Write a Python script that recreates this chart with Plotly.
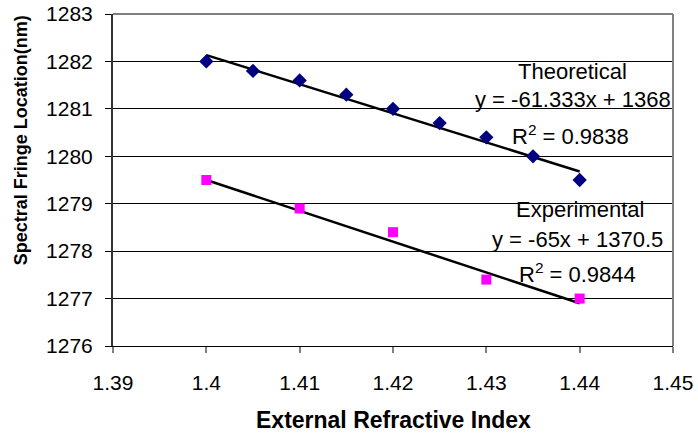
import plotly.graph_objects as go

# Measured fringe positions versus external refractive index
theo_x = [1.400, 1.405, 1.410, 1.415, 1.420, 1.425, 1.430, 1.435, 1.440]
theo_y = [1282.0, 1281.8, 1281.6, 1281.3, 1281.0, 1280.7, 1280.4, 1280.0, 1279.5]

exp_x = [1.40, 1.41, 1.42, 1.43, 1.44]
exp_y = [1279.5, 1278.9, 1278.4, 1277.4, 1277.0]

# Linear trendline coefficients (slope, intercept) and fit quality
theo_fit = (-61.333, 1368.0)
exp_fit = (-65.0, 1370.5)
theo_r2 = "0.9838"
exp_r2 = "0.9844"

x_ticks = [1.39, 1.40, 1.41, 1.42, 1.43, 1.44, 1.45]
x_tick_text = ["1.39", "1.4", "1.41", "1.42", "1.43", "1.44", "1.45"]
y_ticks = [1276, 1277, 1278, 1279, 1280, 1281, 1282, 1283]

FONT = "Liberation Sans, Arial, sans-serif"


def fit_line(xs, coef):
    xe = [min(xs), max(xs)]
    return xe, [coef[0] * v + coef[1] for v in xe]


fig = go.Figure()

tx, ty = fit_line(theo_x, theo_fit)
ex, ey = fit_line(exp_x, exp_fit)
fig.add_trace(go.Scatter(x=tx, y=ty, mode="lines",
                         line=dict(color="black", width=2.5), showlegend=False))
fig.add_trace(go.Scatter(x=ex, y=ey, mode="lines",
                         line=dict(color="black", width=2.5), showlegend=False))

fig.add_trace(go.Scatter(x=theo_x, y=theo_y, mode="markers", name="Theoretical",
                         marker=dict(symbol="diamond", size=11, color="#000080"),
                         showlegend=False))
fig.add_trace(go.Scatter(x=exp_x, y=exp_y, mode="markers", name="Experimental",
                         marker=dict(symbol="square", size=10, color="#FF00FF"),
                         showlegend=False))


def eq_text(coef):
    return f"y = {coef[0]:g}x + {coef[1]:g}"


label_font = dict(family=FONT, size=22, color="black")
notes = [
    (1.4392, 1281.78, "Theoretical", "center"),
    (1.4500, 1281.19, eq_text(theo_fit), "right"),
    (1.4390, 1280.45, f"R<sup>2</sup> = {theo_r2}", "center"),
    (1.4400, 1278.87, "Experimental", "center"),
    (1.4398, 1278.24, eq_text(exp_fit), "center"),
    (1.4398, 1277.54, f"R<sup>2</sup> = {exp_r2}", "center"),
]
for x, y, t, anchor in notes:
    fig.add_annotation(x=x, y=y, text=t, showarrow=False, xanchor=anchor,
                       yanchor="middle", font=label_font)

# Axis titles
fig.add_annotation(xref="paper", yref="paper", x=0.5, y=-0.222, yanchor="middle",
                   text="<b>External Refractive Index</b>", showarrow=False,
                   font=dict(family=FONT, size=23, color="black"))
fig.add_annotation(xref="paper", yref="paper", x=-0.164, y=0.62, xanchor="center",
                   yanchor="middle", textangle=-90,
                   text="<b>Spectral Fringe Location(nm)</b>", showarrow=False,
                   font=dict(family=FONT, size=18, color="black"))

# Plot-area frame: thin black top edge, grey right edge
fig.add_shape(type="line", xref="paper", yref="paper", x0=0, x1=1, y0=1, y1=1,
              line=dict(color="black", width=1))
fig.add_shape(type="line", xref="paper", yref="paper", x0=1, x1=1, y0=0, y1=1,
              line=dict(color="#808080", width=2))

fig.update_xaxes(range=[1.39, 1.45], tickvals=x_ticks, ticktext=x_tick_text,
                 showgrid=False, zeroline=False, showline=True,
                 linecolor="black", linewidth=1, automargin=False,
                 ticks="outside", ticklen=6, tickcolor="#808080", tickwidth=1.5,
                 ticklabelstandoff=12,
                 tickfont=dict(family=FONT, size=21, color="black"))
fig.update_yaxes(range=[1276, 1283], tickvals=y_ticks,
                 showgrid=True, gridcolor="black", gridwidth=1,
                 zeroline=False, showline=True,
                 linecolor="#333333", linewidth=2, automargin=False,
                 ticks="outside", ticklen=6, tickcolor="black", tickwidth=1,
                 ticklabelstandoff=8,
                 tickfont=dict(family=FONT, size=21, color="black"))

fig.update_layout(
    width=698, height=434,
    margin=dict(l=113, r=25, t=14, b=88, autoexpand=False),
    paper_bgcolor="white", plot_bgcolor="white",
    showlegend=False,
)

fig.write_html("out.html")
